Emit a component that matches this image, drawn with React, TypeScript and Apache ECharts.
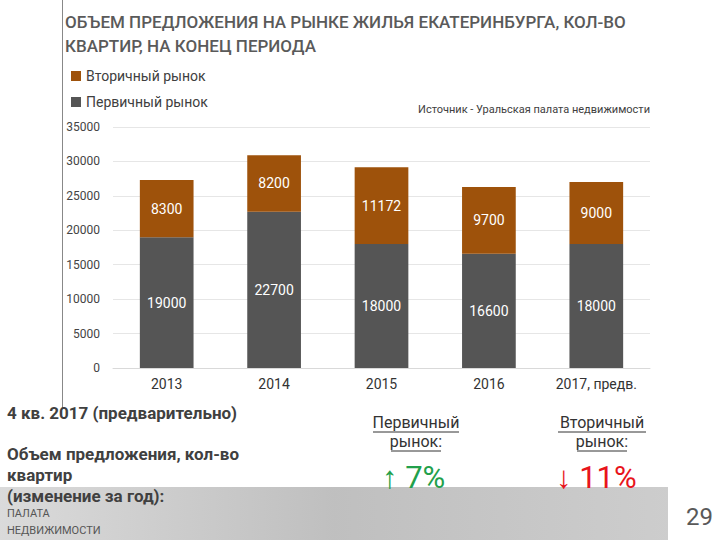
import React, { useEffect, useRef } from "react";
import * as echarts from "echarts";

const categories = ["2013", "2014", "2015", "2016", "2017, предв."];
const primary = [19000, 22700, 18000, 16600, 18000];
const secondary = [8300, 8200, 11172, 9700, 9000];
const yTicks = { min: 0, max: 35000, interval: 5000 };

const NARROW = "'Roboto', 'Noto Sans', sans-serif";
const ORANGE = "#9E520B";
const GRAY = "#555555";

export default function App() {
  const ref = useRef<HTMLDivElement>(null);
  useEffect(() => {
    if (!ref.current) return;
    const chart = echarts.init(ref.current, undefined, { renderer: "svg" });
    const label = {
      show: true,
      position: "inside",
      color: "#ffffff",
      fontSize: 14,
      fontFamily: NARROW,
    };
    chart.setOption({
      animation: false,
      backgroundColor: "#ffffff",
      grid: { left: 113, right: 70, top: 127, bottom: 172 },
      legend: {
        data: ["Вторичный рынок", "Первичный рынок"],
        orient: "vertical",
        left: 66,
        top: 64,
        itemGap: 12,
        itemWidth: 10,
        itemHeight: 10,
        icon: "rect",
        textStyle: { fontSize: 14, color: "#404040", fontFamily: NARROW },
      },
      xAxis: {
        type: "category",
        data: categories,
        axisLine: { show: true, lineStyle: { color: "#d9d9d9" } },
        axisTick: { show: false },
        axisLabel: { color: "#333333", fontSize: 14, fontFamily: NARROW, margin: 9 },
      },
      yAxis: {
        type: "value",
        min: yTicks.min,
        max: yTicks.max,
        interval: yTicks.interval,
        axisLine: { show: false },
        axisTick: { show: false },
        splitLine: { lineStyle: { color: "#e6e6e6" } },
        axisLabel: { color: "#444444", fontSize: 12, fontFamily: NARROW, margin: 13, formatter: (v: number) => String(v) },
      },
      series: [
        {
          name: "Первичный рынок",
          type: "bar",
          stack: "total",
          data: primary,
          barWidth: "50%",
          itemStyle: { color: GRAY },
          label,
        },
        {
          name: "Вторичный рынок",
          type: "bar",
          stack: "total",
          data: secondary,
          barWidth: "50%",
          itemStyle: { color: ORANGE },
          label,
        },
      ],
      graphic: [
        { type: "line", shape: { x1: 62.5, y1: 0, x2: 62.5, y2: 408 }, style: { stroke: "#888", lineWidth: 1 } },
        {
          type: "text", left: 65, top: 10,
          style: { text: "ОБЪЕМ ПРЕДЛОЖЕНИЯ НА РЫНКЕ ЖИЛЬЯ ЕКАТЕРИНБУРГА, КОЛ-ВО\nКВАРТИР, НА КОНЕЦ ПЕРИОДА", fill: "#5a5a5a", fontSize: 17, fontWeight: "500", fontFamily: NARROW, lineHeight: 24 },
        },
        {
          type: "text", right: 70, top: 104,
          style: { text: "Источник - Уральская палата недвижимости", fill: "#404040", fontSize: 11, fontFamily: NARROW },
        },
        // bottom band
        {
          type: "rect", z: 1, shape: { x: 0, y: 487, width: 668, height: 53 },
          style: { opacity: 0.85, fill: new echarts.graphic.LinearGradient(0, 0, 1, 0, [
            { offset: 0, color: "#d4d4d4" }, { offset: 0.5, color: "#b4b4b4" }, { offset: 1, color: "#c4c4c4" },
          ]) },
        },
        { type: "text", z: 5, left: 7, top: 505, style: { text: "ПАЛАТА\nНЕДВИЖИМОСТИ", fill: "#555", fontSize: 11, fontFamily: NARROW, lineHeight: 17 } },
        { type: "text", z: 5, left: 686, top: 505, style: { text: "29", fill: "#595959", fontSize: 24, fontFamily: NARROW } },
        {
          type: "text", z: 5, left: 7, top: 404,
          style: { text: "4 кв. 2017 (предварительно)", fill: "#404040", fontSize: 17, fontWeight: "bold", fontFamily: NARROW },
        },
        {
          type: "text", z: 5, left: 7, top: 443,
          style: { text: "Объем предложения, кол-во\nквартир\n(изменение за год):", fill: "#404040", fontSize: 17, fontWeight: "bold", fontFamily: NARROW, lineHeight: 21 },
        },
        { type: "text", x: 416, y: 414, style: { text: "Первичный", textAlign: "center", fill: "#333", fontSize: 16, fontFamily: NARROW } },
        { type: "line", shape: { x1: 373, y1: 432, x2: 459, y2: 432 }, style: { stroke: "#333", lineWidth: 1 } },
        { type: "text", x: 416, y: 433, style: { text: "рынок:", textAlign: "center", fill: "#333", fontSize: 16, fontFamily: NARROW } },
        { type: "line", shape: { x1: 391, y1: 451, x2: 441, y2: 451 }, style: { stroke: "#333", lineWidth: 1 } },
        { type: "text", z: 5, x: 382, y: 462, style: { text: "↑ 7%", fill: "#22A04B", fontSize: 31, fontFamily: NARROW } },
        { type: "text", x: 602, y: 414, style: { text: "Вторичный", textAlign: "center", fill: "#333", fontSize: 16, fontFamily: NARROW } },
        { type: "line", shape: { x1: 558, y1: 432, x2: 646, y2: 432 }, style: { stroke: "#333", lineWidth: 1 } },
        { type: "text", x: 602, y: 433, style: { text: "рынок:", textAlign: "center", fill: "#333", fontSize: 16, fontFamily: NARROW } },
        { type: "line", shape: { x1: 577, y1: 451, x2: 627, y2: 451 }, style: { stroke: "#333", lineWidth: 1 } },
        { type: "text", z: 5, x: 556, y: 462, style: { text: "↓ 11%", fill: "#E8141B", fontSize: 31, fontFamily: NARROW } },
      ],
    });
    return () => chart.dispose();
  }, []);
  return (
    <div
      ref={ref}
      style={{ position: "fixed", left: 0, top: 0, width: 720, height: 540 }}
    />
  );
}
